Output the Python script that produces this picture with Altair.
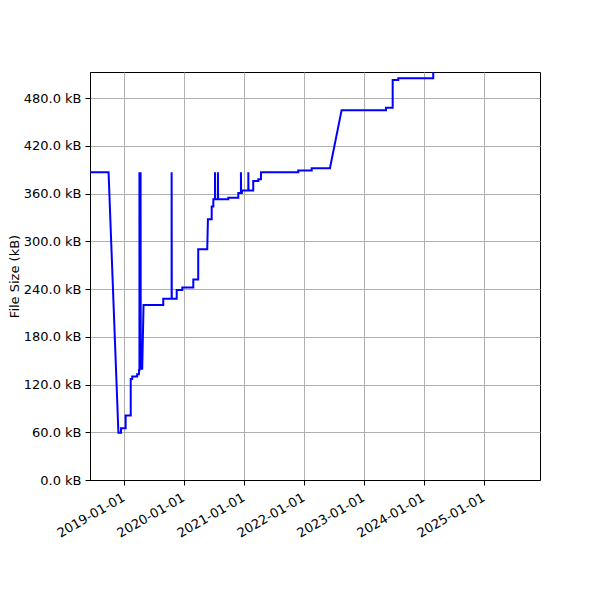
import altair as alt
import pandas as pd

# Commit dates and file sizes (kB)
dates = [
    "2018-03-01", "2018-09-27", "2018-11-26", "2018-12-12", "2018-12-12",
    "2019-01-09", "2019-01-09", "2019-02-09", "2019-02-09", "2019-02-18",
    "2019-02-18", "2019-03-20", "2019-03-20", "2019-03-31", "2019-03-31",
    "2019-04-03", "2019-04-03", "2019-04-04", "2019-04-10", "2019-04-10",
    "2019-04-11", "2019-04-20", "2019-04-28", "2019-08-26", "2019-08-26",
    "2019-10-16", "2019-10-16", "2019-10-17", "2019-11-16", "2019-11-16",
    "2019-12-20", "2019-12-20", "2020-02-25", "2020-02-25", "2020-03-26",
    "2020-03-26", "2020-05-20", "2020-05-24", "2020-06-16", "2020-06-16",
    "2020-06-26", "2020-06-26", "2020-07-06", "2020-07-06", "2020-07-07",
    "2020-07-24", "2020-07-24", "2020-07-25", "2020-09-25", "2020-09-25",
    "2020-11-25", "2020-11-25", "2020-12-11", "2020-12-11", "2020-12-12",
    "2020-12-17", "2020-12-17", "2021-01-25", "2021-01-25", "2021-01-26",
    "2021-02-24", "2021-02-24", "2021-03-27", "2021-03-27", "2021-04-12",
    "2021-04-12", "2021-11-25", "2021-11-25", "2022-02-15", "2022-02-15",
    "2022-06-06", "2022-08-16", "2023-05-13", "2023-05-13", "2023-06-23",
    "2023-06-23", "2023-07-27", "2023-07-27", "2024-02-25", "2024-02-25",
]
sizes_kb = [
    387, 387, 59.5, 59.5, 65,
    65, 81, 81, 127, 127,
    130, 130, 133, 133, 138,
    138, 387, 140, 140, 387,
    140, 140, 220, 220, 228,
    228, 387, 228, 228, 239,
    239, 242, 242, 252, 252,
    290, 290, 328, 328, 344,
    344, 353, 353, 387, 353,
    353, 387, 353, 353, 355,
    355, 361, 361, 387, 361,
    361, 364, 364, 387, 364,
    364, 376, 376, 378, 378,
    387, 387, 389, 389, 392,
    392, 465, 465, 468, 468,
    503, 503, 505, 505, 530,
]

y_ticks = [0, 60, 120, 180, 240, 300, 360, 420, 480]
tick_years = [2019, 2020, 2021, 2022, 2023, 2024, 2025]

df = pd.DataFrame({
    "date": pd.to_datetime(dates),
    "size": sizes_kb,
    "i": list(range(len(dates))),
})

chart = alt.Chart(df).mark_line(
    color="#0000ff", strokeWidth=2, clip=True
).encode(
    x=alt.X(
        "date:T",
        scale=alt.Scale(
            domain=[alt.DateTime(year=2018, month=6, date=6),
                    alt.DateTime(year=2025, month=12, date=6)],
            nice=False,
        ),
        axis=alt.Axis(
            values=[alt.DateTime(year=y, month=1, date=1) for y in tick_years],
            format="%Y-%m-%d",
            labelAngle=330,
            labelAlign="right",
            labelBaseline="top",
            labelPadding=6,
            labelOffset=-4,
            labelOverlap=False,
            labelBound=False,
            title=None,
        ),
    ),
    y=alt.Y(
        "size:Q",
        scale=alt.Scale(domain=[0, 513], nice=False, zero=True),
        axis=alt.Axis(
            values=y_ticks,
            labelExpr="format(datum.value, '.1f') + ' kB'",
            labelPadding=4,
            labelOverlap=False,
            title="File Size (kB)",
            titlePadding=2,
        ),
    ),
    order=alt.Order("i:Q"),
).properties(
    width=450,
    height=408,
    autosize=alt.AutoSizeParams(type="none"),
    padding={"left": 82, "top": 64, "right": 52, "bottom": 112},
).configure_view(
    stroke="black", strokeWidth=1
).configure_axis(
    labelFont="DejaVu Sans",
    labelFontSize=13,
    labelColor="black",
    titleFont="DejaVu Sans",
    titleFontSize=13,
    titleFontWeight="normal",
    titleColor="black",
    tickColor="black",
    tickSize=5,
    domainColor="black",
    gridColor="#b0b0b0",
    gridWidth=1,
)

chart.save("out.html", embed_options={"renderer": "svg", "actions": False})
